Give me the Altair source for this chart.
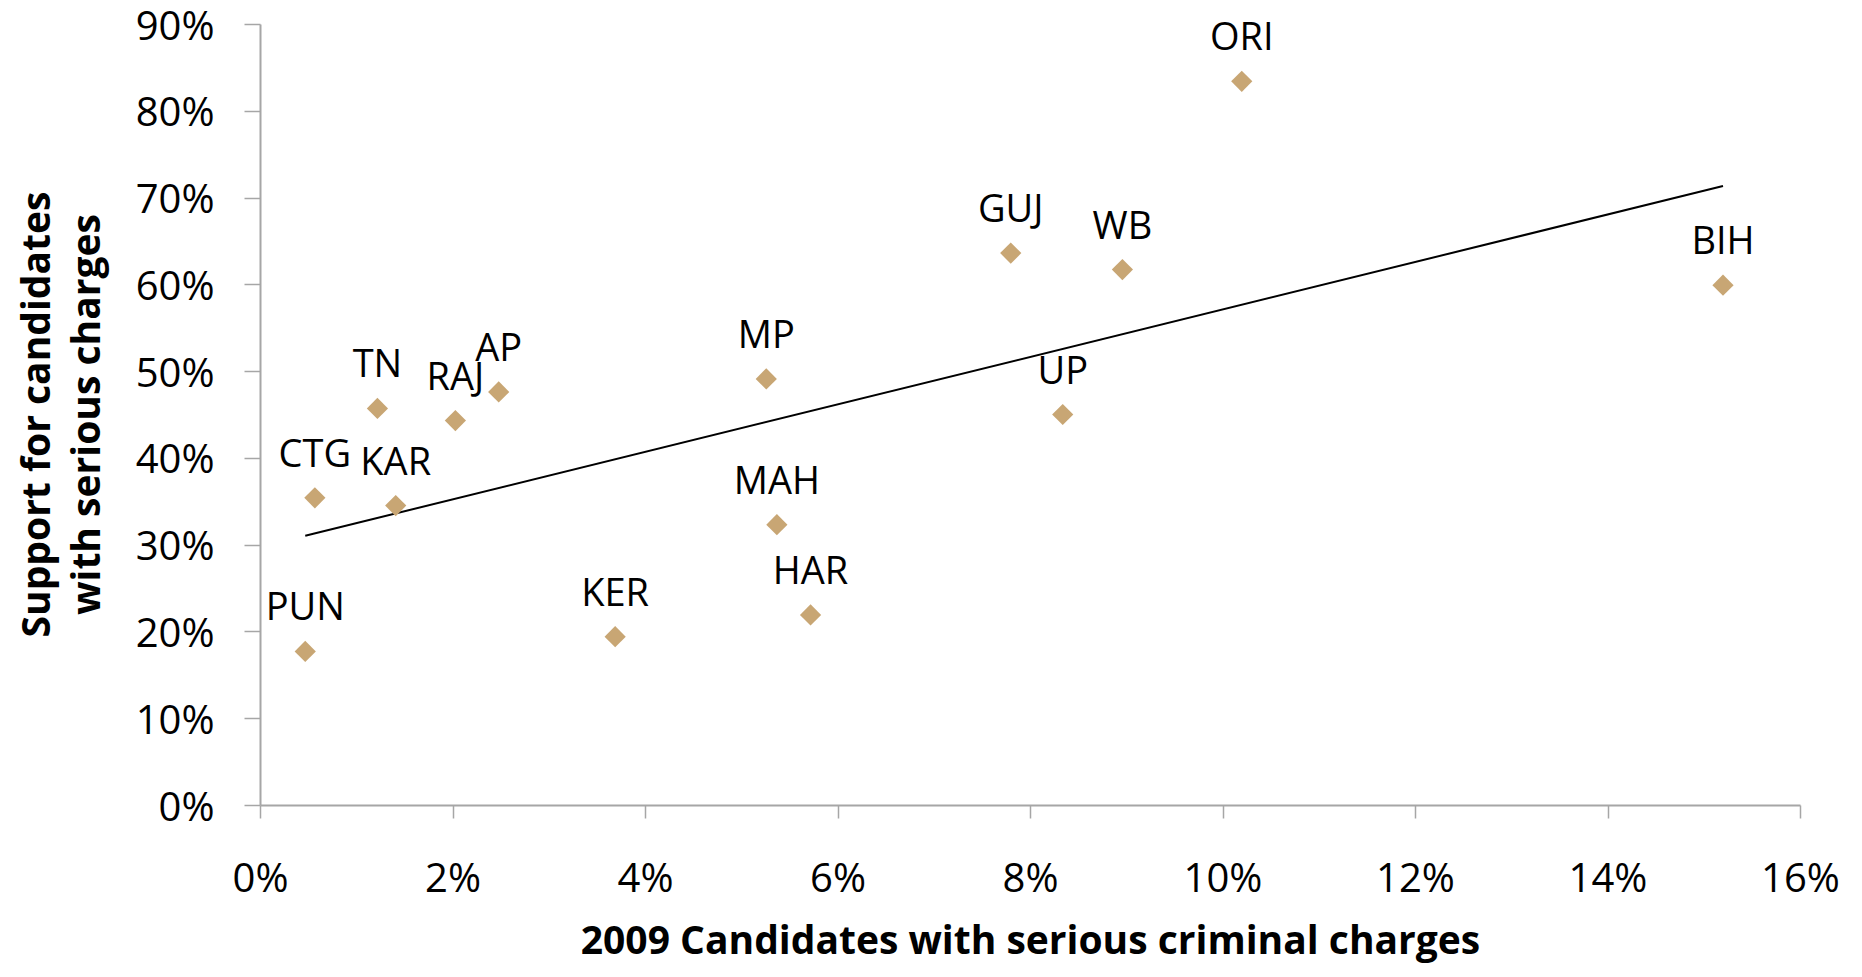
import altair as alt
import pandas as pd

# ---- data ----
states = ["PUN", "CTG", "KAR", "TN", "RAJ", "AP", "KER", "MP", "MAH", "HAR",
          "GUJ", "UP", "WB", "ORI", "BIH"]
criminal_pct = [0.47, 0.57, 1.41, 1.22, 2.03, 2.48, 3.69, 5.26, 5.37, 5.72,
                7.80, 8.34, 8.96, 10.20, 15.20]
support_pct = [17.7, 35.4, 34.5, 45.7, 44.3, 47.6, 19.4, 49.1, 32.3, 21.9,
               63.6, 45.0, 61.7, 83.4, 59.9]

x_ticks = [0, 0.02, 0.04, 0.06, 0.08, 0.10, 0.12, 0.14, 0.16]
y_ticks = [0, 0.1, 0.2, 0.3, 0.4, 0.5, 0.6, 0.7, 0.8, 0.9]

x_title = "2009 Candidates with serious criminal charges"
y_title = ["Support for candidates", "with serious charges"]
source_text = "Source: Lok Foundation, ADR"

df = pd.DataFrame({
    "state": states,
    "criminal": [v / 100 for v in criminal_pct],
    "support": [v / 100 for v in support_pct],
})

AXIS_GRAY = "#A6A6A6"
POINT_COLOR = "#C8A674"

x_enc = alt.X(
    "criminal:Q",
    scale=alt.Scale(domain=[0, 0.16], nice=False, zero=True),
    axis=alt.Axis(
        values=x_ticks, format=".0%", title=x_title,
        labelFont="Open Sans", labelFontSize=40, labelColor="black",
        labelPadding=41, labelFlush=False, labelOverlap=False,
        tickSize=13, tickWidth=1.5, tickColor=AXIS_GRAY,
        domainColor=AXIS_GRAY, domainWidth=2, grid=False,
        titleFont="Open Sans", titleFontWeight="bold", titleFontSize=39,
        titleColor="black", titleBaseline="alphabetic", titleAlign="center",
        titleX=770, titleY=148,
    ),
)
y_enc = alt.Y(
    "support:Q",
    scale=alt.Scale(domain=[0, 0.9], nice=False, zero=True),
    axis=alt.Axis(
        values=y_ticks, format=".0%", title=y_title,
        labelFont="Open Sans", labelFontSize=40, labelColor="black",
        labelPadding=30, labelOffset=3, labelFlush=False, labelOverlap=False,
        tickSize=16, tickWidth=1.5, tickColor=AXIS_GRAY,
        domainColor=AXIS_GRAY, domainWidth=2, grid=False,
        titleFont="Open Sans", titleFontWeight="bold", titleFontSize=39,
        titleColor="black", titleAngle=-90, titleAlign="center",
        titleBaseline="alphabetic", titleLineHeight=50,
        titleX=-211, titleY=390,
    ),
)

base = alt.Chart(df)

trend = base.transform_regression("criminal", "support").mark_line(
    color="black", strokeWidth=2
).encode(x=x_enc, y=y_enc)

points = base.mark_point(
    shape="diamond", filled=True, size=450, color=POINT_COLOR, opacity=1
).encode(x=x_enc, y=y_enc)

labels = base.mark_text(
    dy=-31, baseline="alphabetic", align="center",
    font="Open Sans", fontSize=38, color="black"
).encode(x=x_enc, y=y_enc, text="state:N")

source = alt.Chart(pd.DataFrame({"t": [source_text]})).mark_text(
    align="left", baseline="alphabetic", font="Open Sans", fontSize=22,
    color="black"
).encode(x=alt.value(-258), y=alt.value(965), text="t:N")

chart = alt.layer(trend, points, labels, source).properties(
    width=1540, height=781,
    padding={"left": 252, "top": 16, "right": 40, "bottom": 158},
    autosize=alt.AutoSizeParams(type="none"),
).configure_view(stroke=None)

chart.save("out.html", embed_options={"renderer": "svg", "actions": False})
